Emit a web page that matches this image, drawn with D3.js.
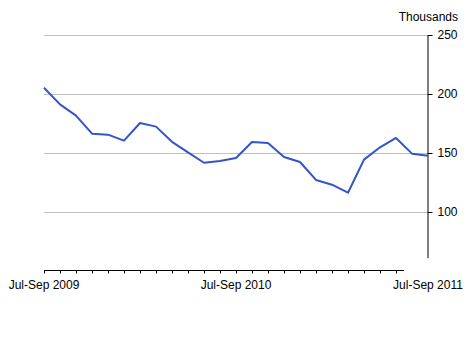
<!DOCTYPE html>
<html lang="en">
<head>
<meta charset="UTF-8">
<title>Thousands</title>
<script src="https://d3js.org/d3.v7.min.js"></script>
<style>
    body { margin: 0; background: #fff; }
    svg { display: block; font-family: Arial, "Liberation Sans", sans-serif; }
    .grid line { stroke: #c0c0c0; stroke-width: 1px; }
    .axis text { font-size: 12px; fill: #000; }
    .axis path, .axis line { stroke: #000; }
    .series { fill: none; stroke: #3355cc; stroke-width: 2px; stroke-linejoin: round; }
</style>
</head>
<body>
<svg width="472" height="338"></svg>
<script>
    // rolling three-month periods
    const periods = [
        "Jul-Sep 2009", "Aug-Oct 2009", "Sep-Nov 2009", "Oct-Dec 2009", "Nov-Jan 2010",
        "Dec-Feb 2010", "Jan-Mar 2010", "Feb-Apr 2010", "Mar-May 2010", "Apr-Jun 2010",
        "May-Jul 2010", "Jun-Aug 2010", "Jul-Sep 2010", "Aug-Oct 2010", "Sep-Nov 2010",
        "Oct-Dec 2010", "Nov-Jan 2011", "Dec-Feb 2011", "Jan-Mar 2011", "Feb-Apr 2011",
        "Mar-May 2011", "Apr-Jun 2011", "May-Jul 2011", "Jun-Aug 2011", "Jul-Sep 2011"
    ];
    const values = [
        205.6, 191.5, 181.9, 166.6, 165.8, 160.7, 175.7, 172.6, 159.7, 150.8,
        142.0, 143.5, 146.0, 159.6, 158.7, 146.9, 142.6, 127.4, 123.4, 116.6,
        144.6, 155.1, 163.0, 149.7, 148.0
    ];
    const labelPeriods = ["Jul-Sep 2009", "Jul-Sep 2010", "Jul-Sep 2011"];
    const yTicks = [100, 150, 200, 250];
    const yUnit = "Thousands";

    const svg = d3.select("svg");

    const x = d3.scalePoint().domain(periods).range([44, 428]);
    const y = d3.scaleLinear().domain([61.5, 250]).range([257.7, 35.3]);

    // gridlines
    svg.append("g").attr("class", "grid")
        .selectAll("line").data(yTicks).join("line")
        .attr("x1", x(periods[0]))
        .attr("x2", 427.5)
        .attr("y1", d => Math.round(y(d)) + 0.5)
        .attr("y2", d => Math.round(y(d)) + 0.5);

    // right value axis
    const yAxis = svg.append("g").attr("class", "axis")
        .attr("transform", "translate(427.5,0)")
        .call(d3.axisRight(y).tickValues(yTicks).tickSize(5).tickPadding(5).tickSizeOuter(0));
    yAxis.selectAll(".tick").attr("transform", d => `translate(0,${Math.round(y(d)) + 0.5})`);

    svg.append("text")
        .attr("x", 458)
        .attr("y", 21)
        .attr("text-anchor", "end")
        .style("font-size", "12px")
        .text(yUnit);

    // category axis
    const tickPeriods = periods.slice(0, 23);
    const xAxis = svg.append("g").attr("class", "axis")
        .attr("transform", "translate(0,270.5)")
        .call(d3.axisBottom(x).tickValues(tickPeriods).tickSize(3).tickSizeOuter(0).tickFormat(""));
    const axisEnd = x(tickPeriods[tickPeriods.length - 1]) + x.step() / 2;
    xAxis.select(".domain").attr("d", `M${x(periods[0])},0H${axisEnd}`);
    xAxis.selectAll(".tick").attr("transform", d => `translate(${Math.round(x(d)) + 0.5},0)`);

    svg.append("g").attr("class", "axis")
        .selectAll("text").data(labelPeriods).join("text")
        .attr("x", d => x(d))
        .attr("y", 289)
        .attr("text-anchor", "middle")
        .text(d => d);

    // series line
    const line = d3.line()
        .x((d, i) => x(periods[i]))
        .y(d => y(d));

    svg.append("path")
        .datum(values)
        .attr("class", "series")
        .attr("d", line);
</script>
</body>
</html>
